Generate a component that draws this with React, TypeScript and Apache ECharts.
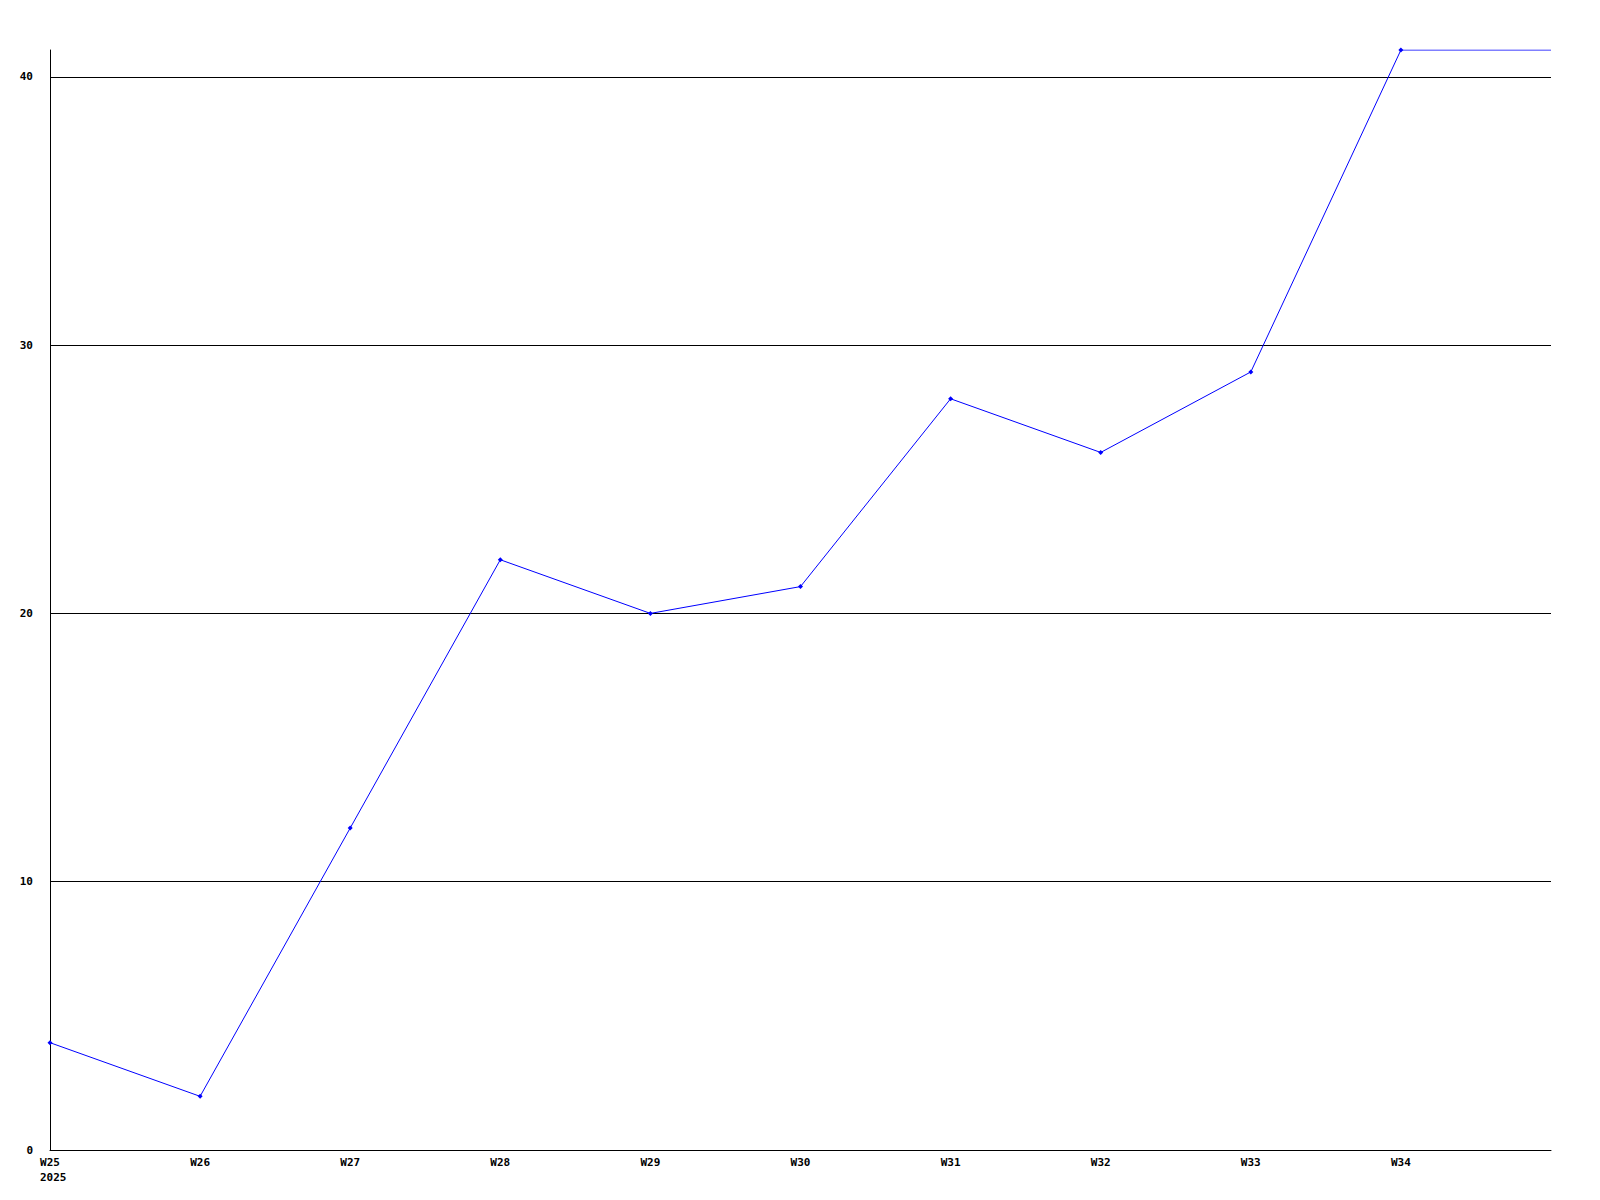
import React, { useEffect, useRef } from "react";
import * as echarts from "echarts";

const weeks = ["W25", "W26", "W27", "W28", "W29", "W30", "W31", "W32", "W33", "W34", "W35"];
const values = [4, 2, 12, 22, 20, 21, 28, 26, 29, 41, 41];
const gridValues = [10, 20, 30, 40];
const yearLabel = "2025";

export default function App() {
  const ref = useRef<HTMLDivElement>(null);
  useEffect(() => {
    const chart = echarts.init(ref.current!, null, { renderer: "svg" });
    const font = "DejaVu Sans Mono";
    chart.setOption({
      animation: false,
      backgroundColor: "#ffffff",
      grid: { left: 50, top: 50, right: 49, bottom: 50, containLabel: false },
      xAxis: {
        type: "category",
        data: weeks,
        boundaryGap: false,
        axisLine: { lineStyle: { color: "#000", width: 1 } },
        axisTick: { show: false },
        splitLine: { show: false },
        axisLabel: {
          color: "#000",
          fontFamily: font,
          fontWeight: "bold",
          fontSize: 11,
          margin: 7,
          formatter: (v: string) => (v === weeks[weeks.length - 1] ? "" : v),
        },
      },
      yAxis: {
        type: "value",
        min: 0,
        max: 41,
        interval: 10,
        axisLine: { show: true, lineStyle: { color: "#000", width: 1 } },
        axisTick: { show: false },
        splitLine: { show: false },
        axisLabel: {
          color: "#000",
          fontFamily: font,
          fontWeight: "bold",
          fontSize: 11,
          margin: 17,
          formatter: (v: number) => (v % 10 === 0 ? String(v) : ""),
        },
      },
      series: [
        {
          type: "line",
          data: values.map((v, i) =>
            i === values.length - 1 ? { value: v, symbol: "none" } : v
          ),
          symbol: "diamond",
          symbolSize: 5,
          showAllSymbol: true,
          lineStyle: { color: "#0000ff", width: 1 },
          itemStyle: { color: "#0000ff" },
          z: 3,
          markLine: {
            silent: true,
            symbol: ["none", "none"],
            label: { show: false },
            lineStyle: { color: "#000", width: 1, type: "solid" },
            data: gridValues.map((g) => ({ yAxis: g })),
            z: 1,
          },
        },
      ],
    });
    const p = chart.convertToPixel({ xAxisIndex: 0, yAxisIndex: 0 }, [weeks[0], 0]) as number[];
    chart.setOption({
      graphic: [
        {
          type: "text",
          x: p[0] - 10,
          y: p[1] + 22,
          style: {
            text: yearLabel,
            fill: "#000",
            font: `bold 11px ${font}`,
            align: "left",
            verticalAlign: "top",
          },
        },
      ],
    });
    return () => chart.dispose();
  }, []);
  return (
    <div
      ref={ref}
      style={{ position: "absolute", left: 0, top: 0, width: 1600, height: 1200 }}
    />
  );
}
